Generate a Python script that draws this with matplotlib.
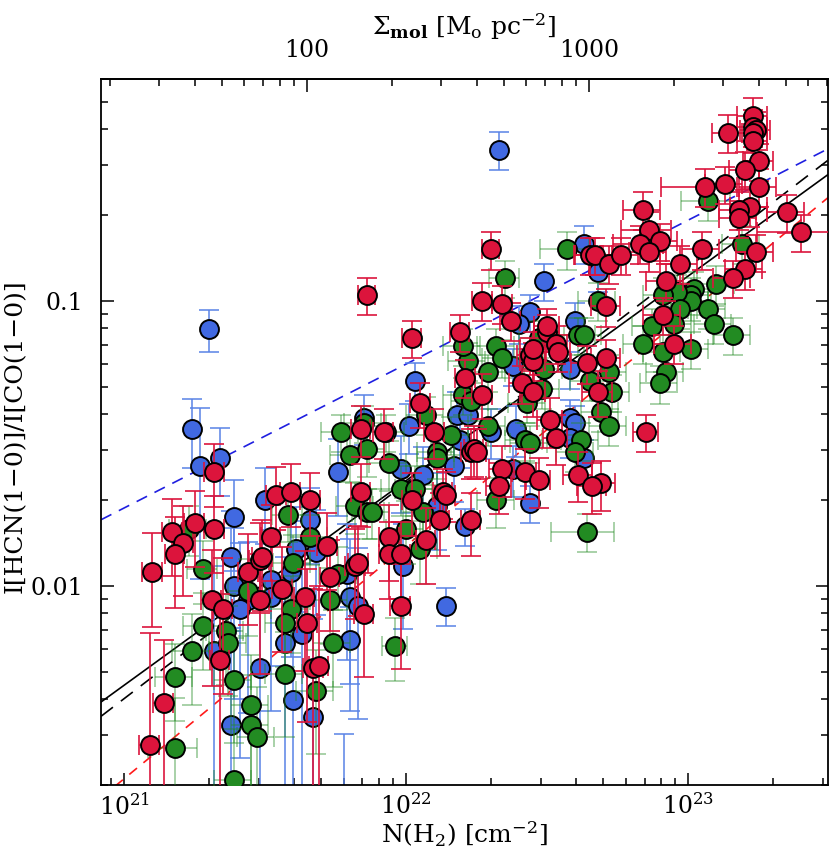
#!/usr/bin/env python3
"""HCN/CO intensity ratio against H2 column density, three samples with fits."""

import matplotlib

matplotlib.use("Agg")
import matplotlib.pyplot as plt
import numpy as np
from matplotlib import ticker

# ---- data (log10 N(H2) [cm^-2], log10 ratio) ----
# relative 1-sigma errors on the ratio (yerr) and on N(H2) (xerr)
RED_LOGN = [
    21.17, 21.25, 21.32, 21.21, 21.18, 21.10, 21.54, 21.66, 21.52, 21.72,
    21.44, 21.48, 21.49, 21.73, 21.48, 21.56, 21.64, 21.31, 21.35, 21.65,
    21.34, 21.67, 21.69, 21.14, 21.09, 21.59, 21.32, 21.84, 22.02, 22.05,
    22.10, 21.92, 21.84, 21.82, 21.83, 21.85, 22.02, 22.13, 22.14, 22.12,
    21.94, 22.07, 21.94, 21.98, 21.98, 22.23, 22.23, 22.24, 22.25, 22.19,
    22.21, 22.27, 22.44, 22.45, 22.45, 22.50, 22.53, 22.54, 22.41, 22.45,
    22.51, 22.53, 22.34, 22.42, 22.47, 22.33, 21.86, 22.30, 22.65, 22.27,
    22.34, 22.37, 22.50, 22.67, 22.72, 22.76, 22.71, 22.71, 22.64, 22.68,
    22.85, 22.61, 22.69, 22.66, 23.14, 23.23, 23.23, 23.24, 23.23, 23.23,
    23.25, 23.20, 23.25, 23.06, 23.13, 23.22, 23.18, 23.18, 23.35, 23.40,
    22.84, 22.86, 22.83, 22.90, 22.86, 23.05, 22.97, 23.24, 23.20, 23.16,
    22.92, 22.91, 22.95,
]
RED_LOGR = [
    -1.81, -1.78, -1.80, -1.85, -1.89, -1.95, -1.68, -1.70, -1.83, -1.86,
    -1.95, -1.91, -1.90, -1.97, -2.05, -2.01, -2.04, -2.05, -2.08, -2.13,
    -2.26, -2.29, -2.28, -2.41, -2.56, -1.67, -1.60, -1.45, -1.13, -1.36,
    -1.46, -1.46, -1.67, -1.93, -1.92, -2.10, -1.70, -1.67, -1.68, -1.77,
    -1.83, -1.84, -1.89, -1.89, -2.07, -1.77, -1.53, -1.52, -1.53, -1.11,
    -1.27, -1.33, -1.19, -1.21, -1.17, -1.11, -1.15, -1.18, -1.29, -1.32,
    -1.42, -1.48, -1.59, -1.60, -1.63, -1.65, -0.98, -0.82, -0.84, -1.00,
    -1.01, -1.07, -1.09, -0.84, -0.87, -0.84, -1.02, -1.20, -1.22, -1.32,
    -1.46, -1.61, -1.64, -1.65, -0.41, -0.35, -0.39, -0.40, -0.41, -0.44,
    -0.51, -0.54, -0.60, -0.60, -0.59, -0.67, -0.68, -0.71, -0.69, -0.76,
    -0.68, -0.75, -0.80, -0.79, -0.83, -0.82, -0.87, -0.83, -0.89, -0.92,
    -0.93, -1.05, -1.15,
]
RED_YERR = [
    0.30, 0.30, 0.30, 0.35, 0.35, 0.36, 0.25, 0.25, 0.30, 0.30,
    0.35, 0.35, 0.35, 0.35, 0.45, 0.40, 0.45, 0.50, 0.50, 0.55,
    0.70, 0.90, 0.90, 0.66, 1.47, 0.25, 0.25, 0.20, 0.15, 0.18,
    0.20, 0.20, 0.25, 0.35, 0.35, 0.40, 0.25, 0.20, 0.20, 0.25,
    0.30, 0.30, 0.30, 0.30, 0.40, 0.25, 0.20, 0.20, 0.20, 0.15,
    0.15, 0.18, 0.15, 0.15, 0.15, 0.15, 0.15, 0.15, 0.15, 0.18,
    0.20, 0.20, 0.20, 0.20, 0.20, 0.20, 0.15, 0.15, 0.15, 0.15,
    0.15, 0.15, 0.15, 0.15, 0.15, 0.15, 0.15, 0.15, 0.15, 0.18,
    0.15, 0.20, 0.20, 0.20, 0.15, 0.15, 0.15, 0.15, 0.15, 0.15,
    0.15, 0.15, 0.15, 0.15, 0.15, 0.15, 0.15, 0.15, 0.15, 0.15,
    0.15, 0.15, 0.15, 0.15, 0.15, 0.15, 0.15, 0.15, 0.15, 0.15,
    0.15, 0.15, 0.15,
]
RED_XERR = [
    0.08, 0.08, 0.08, 0.08, 0.08, 0.08, 0.08, 0.08, 0.08, 0.08,
    0.08, 0.08, 0.08, 0.08, 0.08, 0.08, 0.08, 0.08, 0.08, 0.08,
    0.08, 0.08, 0.08, 0.08, 0.08, 0.08, 0.08, 0.08, 0.08, 0.08,
    0.08, 0.08, 0.08, 0.08, 0.08, 0.08, 0.08, 0.08, 0.08, 0.08,
    0.08, 0.08, 0.08, 0.08, 0.08, 0.08, 0.08, 0.08, 0.08, 0.08,
    0.08, 0.08, 0.10, 0.10, 0.10, 0.10, 0.10, 0.10, 0.10, 0.10,
    0.10, 0.10, 0.10, 0.10, 0.10, 0.10, 0.07, 0.07, 0.12, 0.08,
    0.08, 0.08, 0.10, 0.15, 0.15, 0.15, 0.12, 0.12, 0.12, 0.12,
    0.10, 0.12, 0.12, 0.12, 0.12, 0.12, 0.12, 0.12, 0.12, 0.12,
    0.12, 0.12, 0.15, 0.30, 0.15, 0.15, 0.15, 0.15, 0.15, 0.30,
    0.15, 0.20, 0.20, 0.15, 0.15, 0.15, 0.15, 0.15, 0.15, 0.15,
    0.15, 0.15, 0.15,
]

GREEN_LOGN = [
    21.28, 21.58, 21.66, 21.60, 21.76, 21.44, 21.73, 21.59, 21.28, 21.36,
    21.37, 21.57, 21.74, 21.24, 21.18, 21.39, 21.57, 21.45, 21.68, 21.45,
    21.47, 21.18, 21.39, 21.23, 21.77, 21.80, 21.85, 21.93, 21.86, 21.94,
    22.07, 22.11, 22.11, 21.82, 21.86, 21.88, 21.98, 22.03, 22.06, 22.00,
    22.05, 22.16, 22.29, 22.20, 22.23, 22.22, 22.20, 22.29, 22.32, 22.34,
    22.49, 22.48, 22.43, 22.42, 22.44, 22.32, 21.96, 22.35, 22.57, 22.61,
    22.63, 22.47, 23.07, 23.19, 23.10, 23.02, 23.01, 23.01, 22.96, 22.91,
    22.97, 23.07, 23.09, 22.95, 22.87, 23.16, 22.84, 22.91, 23.01, 22.92,
    22.68, 22.72, 22.65, 22.90, 22.73, 22.69, 22.72, 22.62, 22.60, 22.64,
]
GREEN_LOGR = [
    -1.94, -1.75, -1.83, -1.92, -1.96, -2.02, -2.05, -2.08, -2.14, -2.16,
    -2.20, -2.13, -2.20, -2.23, -2.32, -2.33, -2.31, -2.42, -2.37, -2.49,
    -2.53, -2.57, -2.68, -1.80, -1.46, -1.54, -1.43, -1.46, -1.52, -1.57,
    -1.40, -1.53, -1.55, -1.72, -1.74, -1.74, -1.66, -1.66, -1.74, -1.80,
    -1.87, -1.47, -1.44, -1.33, -1.35, -1.21, -1.16, -1.25, -1.16, -1.20,
    -1.24, -1.31, -1.36, -1.49, -1.50, -1.70, -2.21, -0.92, -0.82, -1.12,
    -1.12, -1.13, -0.65, -0.80, -0.94, -0.96, -0.98, -1.00, -0.97, -0.98,
    -1.03, -1.03, -1.08, -1.08, -1.09, -1.12, -1.15, -1.18, -1.17, -1.25,
    -1.00, -1.25, -1.28, -1.29, -1.32, -1.39, -1.44, -1.49, -1.53, -1.81,
]
GREEN_YERR = [
    0.25, 0.20, 0.20, 0.25, 0.25, 0.30, 0.30, 0.30, 0.30, 0.35,
    0.35, 0.30, 0.30, 0.35, 0.30, 0.40, 0.40, 0.50, 0.40, 0.50,
    0.50, 0.50, 0.50, 0.20, 0.15, 0.20, 0.15, 0.15, 0.20, 0.20,
    0.15, 0.20, 0.20, 0.20, 0.20, 0.20, 0.20, 0.20, 0.20, 0.25,
    0.25, 0.15, 0.15, 0.15, 0.15, 0.15, 0.15, 0.15, 0.15, 0.15,
    0.15, 0.15, 0.15, 0.15, 0.15, 0.20, 0.25, 0.15, 0.15, 0.15,
    0.15, 0.15, 0.15, 0.15, 0.15, 0.15, 0.15, 0.15, 0.15, 0.15,
    0.15, 0.15, 0.15, 0.15, 0.15, 0.15, 0.15, 0.15, 0.15, 0.15,
    0.15, 0.15, 0.15, 0.15, 0.15, 0.15, 0.15, 0.15, 0.15, 0.15,
]
GREEN_XERR = [
    0.12, 0.12, 0.15, 0.15, 0.15, 0.15, 0.15, 0.15, 0.15, 0.15,
    0.15, 0.15, 0.15, 0.15, 0.15, 0.15, 0.15, 0.15, 0.15, 0.15,
    0.15, 0.20, 0.15, 0.15, 0.15, 0.15, 0.15, 0.15, 0.15, 0.15,
    0.15, 0.15, 0.15, 0.15, 0.15, 0.15, 0.15, 0.15, 0.15, 0.15,
    0.15, 0.15, 0.15, 0.15, 0.15, 0.15, 0.15, 0.15, 0.15, 0.15,
    0.15, 0.15, 0.15, 0.15, 0.15, 0.15, 0.10, 0.12, 0.20, 0.15,
    0.15, 0.15, 0.20, 0.15, 0.15, 0.15, 0.15, 0.15, 0.15, 0.15,
    0.15, 0.15, 0.15, 0.15, 0.15, 0.15, 0.15, 0.15, 0.15, 0.15,
    0.15, 0.15, 0.15, 0.15, 0.15, 0.15, 0.15, 0.15, 0.15, 0.25,
]

BLUE_LOGN = [
    21.39, 21.50, 21.66, 21.61, 21.68, 21.38, 21.52, 21.59, 21.39, 21.44,
    21.52, 21.41, 21.63, 21.57, 21.32, 21.48, 21.60, 21.67, 21.38, 21.30,
    21.24, 21.27, 21.34, 21.76, 22.03, 22.01, 22.17, 22.06, 21.98, 21.85,
    21.79, 21.80, 21.83, 22.11, 21.99, 22.14, 22.21, 22.18, 22.22, 22.19,
    22.30, 22.38, 22.39, 22.38, 22.44, 21.80, 21.78, 22.33, 22.49, 22.63,
    22.44, 22.40, 22.60, 22.68, 22.58, 22.58, 22.60, 22.58, 22.63,
]
BLUE_LOGR = [
    -1.76, -1.70, -1.77, -1.87, -1.88, -1.90, -1.98, -1.95, -2.00, -2.05,
    -2.04, -2.08, -2.17, -2.20, -2.23, -2.29, -2.40, -2.46, -2.49, -1.10,
    -1.45, -1.58, -1.55, -1.60, -1.28, -1.44, -1.58, -1.61, -1.59, -1.41,
    -1.96, -2.04, -2.07, -1.72, -1.93, -2.07, -1.79, -1.40, -1.40, -1.49,
    -1.46, -1.23, -1.45, -1.59, -1.71, -2.19, -2.75, -0.47, -0.93, -0.80,
    -1.04, -1.08, -1.07, -0.90, -1.24, -1.41, -1.43, -1.48, -1.55,
]
BLUE_YERR = [
    0.35, 0.30, 0.30, 0.40, 0.40, 0.45, 0.50, 0.50, 0.60, 0.60,
    0.60, 0.70, 0.90, 1.00, 1.00, 1.10, 1.20, 1.20, 1.20, 0.17,
    0.27, 0.60, 0.27, 0.30, 0.15, 0.20, 0.25, 0.25, 0.30, 0.20,
    0.50, 0.60, 0.60, 0.30, 0.40, 0.15, 0.15, 0.20, 0.20, 0.20,
    0.20, 0.15, 0.20, 0.20, 0.15, 0.30, 0.70, 0.15, 0.15, 0.15,
    0.15, 0.15, 0.15, 0.15, 0.15, 0.15, 0.15, 0.15, 0.15,
]

# power-law fits: log R = LOGR_AT_1E22 + SLOPE * (log N - 22)
FIT_SLOPE = {"all": 0.718, "all_dashed": 0.757, "blue": 0.505, "red": 0.817}
FIT_LOGR_AT_1E22 = {"all": -1.631, "all_dashed": -1.639, "blue": -1.222, "red": -1.860}

SIGMA_PER_N = 2.25e-20  # Msun pc^-2 per (cm^-2)
SIGMA_TICKS = [100, 1000]

XLIM = (8.28e20, 3.13e23)
YLIM = (0.002, 0.60)

RED = "#DC143C"
GREEN = "#228B22"
BLUE = "#4169E1"


def draw_sample(ax, logn, logr, yfrac, xfrac, face, ecolor, ealpha, elw, z):
    n = 10 ** np.asarray(logn)
    r = 10 ** np.asarray(logr)
    yerr = r * np.asarray(yfrac)
    xerr = None if xfrac is None else n * np.asarray(xfrac)
    ax.errorbar(n, r, yerr=yerr, xerr=xerr, fmt="none", ecolor=ecolor,
                alpha=ealpha, elinewidth=elw, capsize=7, capthick=elw, zorder=z)
    ax.scatter(n, r, s=185, c=face, edgecolors="black", linewidths=1.4,
               zorder=z + 0.5)


plt.rcParams.update({
    "font.family": "DejaVu Serif",
    "mathtext.fontset": "dejavuserif",
    "font.size": 17,
})

fig = plt.figure(figsize=(8.3, 8.55), dpi=100)
ax = fig.add_axes([0.1217, 0.0819, 0.8759, 0.8257])
ax.set_xscale("log")
ax.set_yscale("log")
ax.set_xlim(*XLIM)
ax.set_ylim(*YLIM)

# fit lines underneath the points
lx = np.log10(np.array(XLIM))
styles = {
    "all": dict(color="black", ls="-"),
    "all_dashed": dict(color="black", ls=(0, (9, 6))),
    "blue": dict(color="#1f1fe0", ls=(0, (7, 5))),
    "red": dict(color="#ff1a1a", ls=(0, (6, 5))),
}
for key, st in styles.items():
    ly = FIT_LOGR_AT_1E22[key] + FIT_SLOPE[key] * (lx - 22)
    ax.plot(10 ** lx, 10 ** ly, lw=1.2, zorder=1, **st)

draw_sample(ax, BLUE_LOGN, BLUE_LOGR, BLUE_YERR, None, BLUE, "#5a83e6", 0.85, 1.3, 2)
draw_sample(ax, GREEN_LOGN, GREEN_LOGR, GREEN_YERR, GREEN_XERR, GREEN, GREEN, 0.5, 1.1, 3)
draw_sample(ax, RED_LOGN, RED_LOGR, RED_YERR, RED_XERR, RED, RED, 0.85, 1.4, 4)

ax.yaxis.set_major_formatter(ticker.FuncFormatter(lambda v, p: f"{v:g}"))
ax.yaxis.set_minor_formatter(ticker.NullFormatter())
ax.tick_params(which="both", direction="in", top=False, right=True, width=1.1)
ax.tick_params(which="major", length=9, labelsize=17)
ax.tick_params(axis="x", which="major", pad=6)
ax.tick_params(axis="y", which="major", pad=13)
ax.tick_params(which="minor", length=5)
for sp in ax.spines.values():
    sp.set_linewidth(1.3)

ax.set_xlabel(r"N(H$_2$) [cm$^{-2}$]", fontsize=18)
ax.xaxis.set_label_coords(0.5, -0.049)
ax.set_ylabel("I[HCN(1\u22120)]/I[CO(1\u22120)]", fontsize=18)
ax.yaxis.set_label_coords(-0.102, 0.494)

sec = ax.secondary_xaxis(
    "top", functions=(lambda n: n * SIGMA_PER_N, lambda s: s / SIGMA_PER_N))
sec.xaxis.set_major_locator(ticker.FixedLocator(SIGMA_TICKS))
sec.xaxis.set_minor_locator(ticker.LogLocator(base=10, subs=np.arange(2, 10)))
sec.xaxis.set_major_formatter(ticker.FuncFormatter(lambda v, p: f"{v:g}"))
sec.xaxis.set_minor_formatter(ticker.NullFormatter())
sec.tick_params(which="both", direction="in", width=1.1)
sec.tick_params(which="major", length=9, pad=12, labelsize=17)
sec.tick_params(which="minor", length=5)
sec.spines["top"].set_linewidth(1.3)
sec.set_xlabel(r"$\Sigma_{\mathbf{mol}}$ [M$_{\rm o}$ pc$^{-2}$]", fontsize=18)
sec.xaxis.set_label_coords(0.499, 1.062, transform=ax.transAxes)

fig.savefig("out.png", dpi=100)
plt.close(fig)
